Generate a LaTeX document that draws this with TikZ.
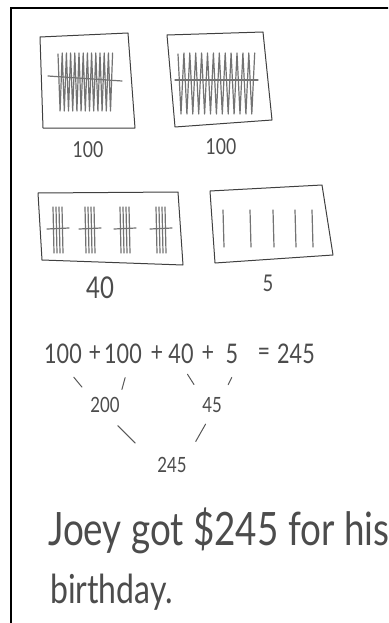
\documentclass[tikz,border=0pt]{standalone}
\usepackage{fontspec}
\newfontfamily\handfont[FakeStretch=0.8]{Lato}
\tikzset{
	box/.style={draw=black!75, line width=1pt, line join=round},
	tally/.style={draw=black!55, line width=1.2pt, line join=round, line cap=round},
	num/.style={inner sep=0pt, text=black!70, font=\handfont\fontsize{#1}{#1}\selectfont},
	branch/.style={draw=black!65, line width=1pt, line cap=round},
}
\begin{document}
\begin{tikzpicture}[x=1pt, y=-1pt]
			%%%%% START %%%%%
			\useasboundingbox (0,0) rectangle (388,623);
			\clip (0,0) rectangle (388,623);
			\fill[white] (0,0) rectangle (388,623);
			\draw[line width=2.2pt] (11,640) -- (11,8) -- (400,8);
			
			% two hundreds
			\draw[box] (40,37) -- (128,33) -- (135,128) -- (43,128) -- cycle;
			\draw[tally] (58,54) \foreach \i in {1,...,13} { -- ({58+4.2*\i-2.1},111) -- ({58+4.2*\i},53) };
			\draw[tally] (48,76) -- (122,81);
			\node[num=22] (hundredA) at (88,150) {100};
			
			\draw[box] (167,35) -- (263,32) -- (272,120) -- (175,127) -- cycle;
			\draw[tally] (178,54) \foreach \i in {1,...,13} { -- ({178+5.9*\i-2.9},114) -- ({178+5.9*\i},53) };
			\draw[tally] (175,80) -- (258,80);
			\node[num=22] (hundredB) at (221,147) {100};
			
			% four tens
			\draw[box] (38,193) -- (178,192) -- (183,265) -- (42,260) -- cycle;
			\foreach \c in {58,90,125,161} {
				\foreach \d in {-5,-2,1,4} \draw[tally] ({\c+\d},207) -- ({\c+\d+1},253);
				\draw[tally] ({\c-11},229) -- ({\c+11},228);
			}
			\node[num=30] (forty) at (100,288) {40};
			
			% five ones
			\draw[box] (210,191) -- (322,185) -- (333,255) -- (215,263) -- cycle;
			\foreach \x in {223,250,273,295,312} \draw[tally] (\x,210) -- ({\x+1},247);
			\node[num=23] (five) at (268,283) {5};
			
			% sum
			\node[num=27] (n1) at (63,354) {100};
			\node[num=27] (p1) at (95,354) {+};
			\node[num=27] (n2) at (123,354) {100};
			\node[num=27] (p2) at (157,354) {+};
			\node[num=27] (n3) at (181,354) {40};
			\node[num=27] (p3) at (208,354) {+};
			\node[num=27] (n4) at (232,354) {5};
			\node[num=27] (eq) at (264,354) {=};
			\node[num=27] (total) at (296,354) {245};
			
			\node[num=21] (s200) at (105,405) {200};
			\node[num=21] (s45) at (212,405) {45};
			\node[num=21] (s245) at (172,465) {245};
			
			\draw[branch, shorten <=17pt, shorten >=13pt] (n1.south) -- (s200.north west);
			\draw[branch, shorten <=14pt, shorten >=8pt] (n2.-60) -- (s200.north east);
			\draw[branch, shorten <=12pt, shorten >=15pt] (n3.south) -- (s45.north west);
			\draw[branch, shorten <=15pt, shorten >=14pt] (n4.south east) -- (s45.north east);
			\draw[branch, shorten <=18pt, shorten >=31pt] (s200.south) -- (s245.west);
			\draw[branch, shorten <=13pt, shorten >=18pt] (s45.south) -- (s245.north east);
			
			% answer
			\node[num=46, anchor=base west] (line1) at (48,545) {Joey got \$245 for his};
			\node[num=40, anchor=base west] (line2) at (50,603) {birthday.};
			%%%%% END %%%%%
\end{tikzpicture}
\end{document}
